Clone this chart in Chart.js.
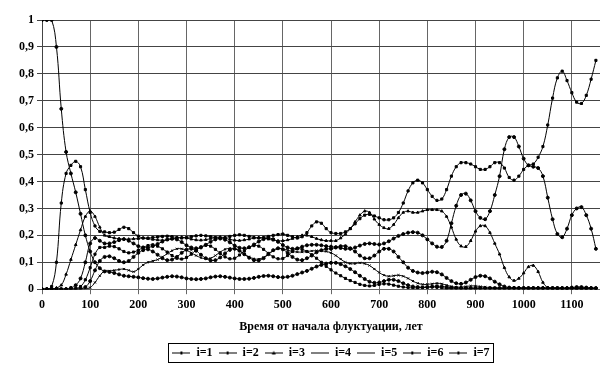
<!DOCTYPE html>
<html>
<head>
<meta charset="utf-8">
<script src="https://cdn.jsdelivr.net/npm/chart.js@4.4.1/dist/chart.umd.min.js"></script>
<style>
  html, body { margin: 0; padding: 0; background: #fff; overflow: hidden; }
  #wrap { width: 625px; height: 369px; }
</style>
</head>
<body>
<div id="wrap"><canvas id="chart" width="625" height="369"></canvas></div>
<script>
// time from start of fluctuation, years
const years = [0,10,20,30,40,50,60,70,80,90,100,110,120,130,140,150,160,170,180,190,
  200,210,220,230,240,250,260,270,280,290,300,310,320,330,340,350,360,370,380,390,
  400,410,420,430,440,450,460,470,480,490,500,510,520,530,540,550,560,570,580,590,
  600,610,620,630,640,650,660,670,680,690,700,710,720,730,740,750,760,770,780,790,
  800,810,820,830,840,850,860,870,880,890,900,910,920,930,940,950,960,970,980,990,
  1000,1010,1020,1030,1040,1050,1060,1070,1080,1090,1100,1110,1120,1130,1140,1150];

const i1 = [1,1,1,0.9,0.67,0.51,0.43,0.36,0.28,0.2,0.14,0.1,0.078,0.066,
  .064,.06,.055,.05,.048,.046,.044,.041,.039,.038,.04,.043,.046,.048,.047,.044,
  .04,.038,.037,.038,.04,.044,.047,.048,.046,.043,.04,.038,.038,.039,.042,.046,.049,.05,.048,.045,
  .044,.046,.05,.056,.062,.068,.076,.084,.09,.095,
  .098,.098,.093,.085,.075,.063,.05,.038,.028,.024,.025,.03,.035,.035,.03,.022,.015,.01,.008,.007,
  .008,.01,.011,.01,.008,.006,.005,.004,.004,.004,.004,.004,.004,.004,.004,.004,.004,.004,.004,.004,
  .004,.004,.004,.004,.004,.004,.004,.004,.004,.004,.004,.004,.004,.004,.004,.004];

const i2 = [0,0,0.01,0.1,0.32,0.43,0.46,0.475,0.455,0.37,0.285,0.235,0.215,0.213,
  .21,.212,.222,.23,.225,.21,.197,.19,.19,.192,.194,.196,.197,.195,.192,.19,
  .192,.195,.198,.2,.198,.195,.192,.19,.192,.196,.2,.202,.2,.196,.192,.19,.192,.196,.2,.203,
  .205,.2,.195,.19,.195,.21,.235,.25,.245,.225,
  .21,.207,.207,.213,.225,.243,.262,.275,.278,.272,.265,.258,.258,.265,.285,.32,.365,.395,.405,.395,
  .37,.345,.33,.335,.37,.42,.455,.47,.47,.465,.455,.445,.445,.455,.47,.47,.45,.415,.405,.42,
  .445,.46,.465,.49,.53,.61,.71,.785,.81,.775,.73,.695,.69,.72,.78,.85];

const i3 = [0,0,0,0.005,0.015,0.055,0.11,0.165,0.22,0.27,0.29,0.27,0.23,0.2,
  .195,.19,.188,.186,.186,.187,.188,.19,.188,.185,.183,.182,.183,.186,.19,.193,
  .19,.186,.183,.182,.184,.188,.192,.194,.19,.185,.182,.181,.183,.186,.19,.192,.19,.186,.182,.18,
  .18,.183,.188,.195,.2,.2,.195,.188,.183,.18,
  .18,.18,.19,.205,.225,.25,.275,.29,.285,.26,.24,.228,.225,.24,.265,.285,.29,.285,.285,.29,
  .295,.295,.295,.29,.27,.23,.185,.16,.158,.18,.215,.235,.235,.21,.17,.13,.08,.045,.032,.04,
  .06,.083,.088,.065,.025,.006,.003,.002,.002,.002,.002,.002,.002,.002,.002,.002];

const i4 = [0,0,0,0,0,0,0.005,0.015,0.04,0.1,0.17,0.19,0.18,0.17,
  .17,.175,.182,.186,.18,.17,.16,.155,.155,.16,.168,.177,.185,.188,.185,.175,
  .163,.155,.152,.155,.165,.176,.185,.188,.184,.174,.162,.154,.152,.156,.166,.177,.186,.19,.186,.176,
  .164,.155,.15,.152,.158,.163,.165,.165,.163,.16,
  .158,.156,.153,.15,.15,.155,.162,.168,.17,.168,.166,.17,.178,.188,.198,.205,.21,.212,.21,.2,
  .185,.17,.158,.157,.18,.245,.31,.35,.355,.33,.29,.265,.26,.29,.35,.42,.52,.565,.565,.53,
  .485,.46,.455,.45,.42,.34,.26,.205,.193,.225,.275,.3,.305,.275,.225,.15];

const i5 = [0,0,0,0,0,0,0,0.003,0.01,0.035,0.08,0.13,0.155,0.155,
  .16,.158,.15,.14,.135,.138,.145,.155,.162,.165,.16,.15,.138,.125,.115,.112,
  .118,.13,.145,.157,.163,.16,.148,.133,.12,.113,.115,.127,.142,.155,.162,.16,.148,.133,.12,.113,
  .114,.125,.14,.15,.148,.14,.128,.115,.1,.085,
  .072,.06,.05,.04,.032,.025,.018,.014,.012,.014,.018,.02,.019,.015,.011,.008,.006,.005,.005,.006,
  .007,.008,.007,.005,.003,.003,.003,.003,.003,.003,.003,.003,.003,.003,.003,.003,.003,.003,.003,.003,
  .003,.003,.003,.003,.003,.003,.003,.003,.003,.003,.003,.003,.003,.003,.003,.003];

const i6 = [0,0,0,0,0,0,0,0,0.002,0.008,0.03,0.07,0.105,0.12,
  .122,.115,.105,.1,.105,.12,.135,.145,.148,.14,.128,.115,.108,.11,.12,.135,
  .147,.15,.143,.128,.115,.107,.108,.118,.133,.146,.15,.143,.13,.117,.108,.107,.115,.13,.145,.152,
  .148,.135,.12,.11,.108,.115,.125,.137,.145,.15,
  .15,.155,.16,.16,.152,.14,.125,.115,.115,.125,.14,.15,.15,.14,.12,.1,.08,.068,.062,.06,
  .062,.065,.063,.055,.042,.03,.022,.02,.025,.035,.045,.05,.048,.04,.028,.018,.01,.006,.005,.004,
  .004,.004,.004,.004,.004,.004,.004,.004,.004,.004,.006,.008,.008,.006,.004,.003];

const i7 = [0,0,0,0,0,0,0,0,0,0.002,0.006,0.025,0.05,0.068,
  .068,.07,.073,.075,.07,.065,.075,.09,.1,.105,.11,.12,.132,.143,.15,.15,
  .145,.135,.125,.117,.113,.115,.125,.138,.148,.152,.15,.142,.13,.12,.113,.112,.118,.13,.142,.15,
  .15,.145,.14,.138,.138,.14,.142,.143,.142,.14,
  .135,.125,.112,.1,.095,.095,.098,.095,.088,.075,.062,.052,.048,.05,.052,.048,.04,.03,.022,.018,
  .018,.02,.022,.02,.015,.01,.008,.008,.01,.012,.012,.01,.008,.006,.005,.004,.004,.004,.004,.004,
  .004,.004,.004,.004,.004,.004,.004,.004,.004,.004,.004,.004,.004,.004,.004,.004];

const seriesNames = ["i=1", "i=2", "i=3", "i=4", "i=5", "i=6", "i=7"];
const seriesValues = [i1, i2, i3, i4, i5, i6, i7];
const markers = ["circle", "rect", "triangle", "circle", "rect", "circle", "crossRot"];

const font = { family: "'Liberation Serif', 'Times New Roman', serif", size: 12, weight: "bold" };

// small line+marker picture for the legend
function legendIcon(k) {
  const c = document.createElement("canvas");
  c.width = 18; c.height = 7;
  const g = c.getContext("2d");
  g.strokeStyle = "#000";
  g.lineWidth = 1;
  g.beginPath(); g.moveTo(0, 3.5); g.lineTo(18, 3.5); g.stroke();
  g.fillStyle = "#000";
  if (k === 2) {
    g.beginPath(); g.moveTo(9, 1.5); g.lineTo(11, 5); g.lineTo(7, 5); g.closePath(); g.fill();
  } else if (k === 3 || k === 4) {
    g.fillRect(8, 3, 2, 1);
  } else {
    g.fillRect(8, 2, 2, 3);
  }
  return c;
}

const datasets = seriesNames.map(function(name, k) {
  return {
    label: name,
    data: years.map(function(t, j) { return { x: t, y: seriesValues[k][j] }; }),
    borderColor: "#000",
    backgroundColor: "#000",
    borderWidth: 1,
    pointStyle: markers[k],
    pointRadius: 1.5,
    pointBorderWidth: 1,
    pointBorderColor: "#000",
    pointBackgroundColor: "#000",
    tension: 0.4,
    fill: false
  };
});

// frame round the legend
const legendFrame = {
  id: "legendFrame",
  afterDraw(chart) {
    const boxes = chart.legend.legendHitBoxes;
    if (!boxes || !boxes.length) return;
    let l = Infinity, r = -Infinity, t = Infinity, b = -Infinity;
    boxes.forEach(function(h) {
      l = Math.min(l, h.left); r = Math.max(r, h.left + h.width);
      t = Math.min(t, h.top); b = Math.max(b, h.top + h.height);
    });
    const ctx = chart.ctx;
    ctx.save();
    ctx.strokeStyle = "#000";
    ctx.lineWidth = 1;
    ctx.strokeRect(Math.round(l - 4) + 0.5, Math.round(t - 4) + 0.5, Math.round(r - l + 8), Math.round(b - t + 7));
    ctx.restore();
  }
};

new Chart(document.getElementById("chart").getContext("2d"), {
  type: "line",
  data: { datasets: datasets },
  plugins: [legendFrame],
  options: {
    responsive: false,
    animation: false,
    devicePixelRatio: 1,
    layout: { padding: { top: 20, left: 0, right: 0, bottom: 0 } },
    plugins: {
      tooltip: { enabled: false },
      legend: {
        position: "bottom",
        fullSize: false,
        labels: {
          color: "#000",
          font: font,
          usePointStyle: true,
          pointStyleWidth: 18,
          boxHeight: 7,
          padding: 6,
          generateLabels: function(chart) {
            const items = Chart.defaults.plugins.legend.labels.generateLabels(chart);
            items.forEach(function(it, k) { it.pointStyle = legendIcon(k); });
            return items;
          }
        }
      }
    },
    scales: {
      x: {
        type: "linear",
        min: 0,
        max: 1200,
        afterFit: function(s) { s.paddingRight = 0; s.paddingLeft = 0; },
        ticks: {
          stepSize: 100, color: "#000", font: font, padding: 4, maxRotation: 0,
          callback: function(v) { return String(v); }
        },
        grid: { color: "#666", lineWidth: 1, tickLength: 5 },
        border: { color: "#666" },
        title: {
          display: true,
          text: "Время от начала флуктуации, лет",
          color: "#000",
          font: font,
          padding: { top: 3, bottom: 7 }
        }
      },
      y: {
        min: 0,
        max: 1,
        afterFit: function(s) { s.width = 42; },
        ticks: {
          stepSize: 0.1,
          color: "#000",
          font: font,
          padding: 3,
          callback: function(v) { return String(Math.round(v * 10) / 10).replace(".", ","); }
        },
        grid: { color: "#444", lineWidth: 1, tickLength: 5 },
        border: { color: "#444" }
      }
    }
  }
});
</script>
</body>
</html>
